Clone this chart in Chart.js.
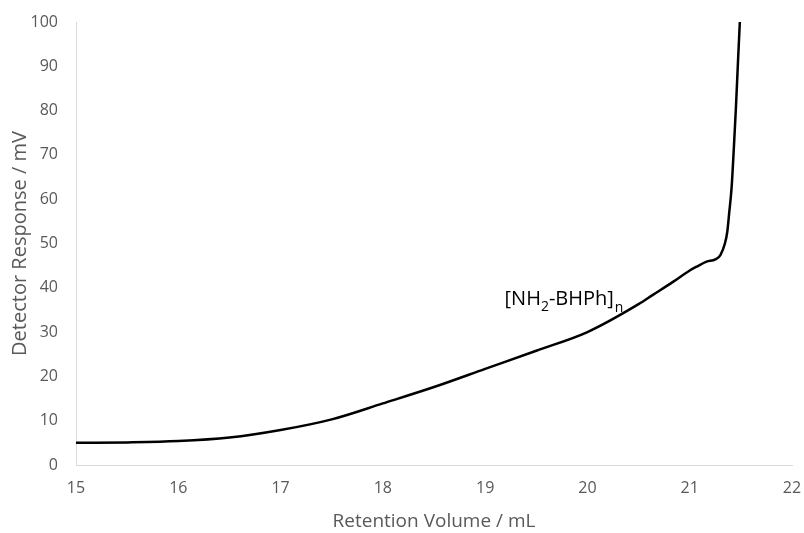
<!DOCTYPE html>
<html>
<head>
<meta charset="utf-8">
<script src="https://cdn.jsdelivr.net/npm/chart.js@4"></script>
<style>
  html, body { margin: 0; padding: 0; background: #fff; }
  #wrap { width: 804px; height: 533px; }
</style>
</head>
<body>
<div id="wrap"><canvas id="gpcChart" width="804" height="533"></canvas></div>
<script>
"use strict";

// retention volume (mL) and detector response (mV)
var volumes   = [15.0, 15.5, 16.0, 16.5, 17.0, 17.5, 18.0, 18.5, 19.0, 19.5, 20.0, 20.5, 20.64, 20.84, 21.0, 21.07, 21.165, 21.25, 21.30, 21.344, 21.367, 21.386, 21.41, 21.432, 21.452, 21.474, 21.49];
var responses = [5.0, 5.1, 5.4, 6.2, 7.9, 10.3, 13.9, 17.6, 21.7, 25.8, 30.0, 36.3, 38.4, 41.4, 43.9, 44.8, 45.9, 46.4, 47.4, 50.0, 52.6, 56.9, 62.8, 71.8, 80.8, 92.1, 100.0];

var xTicks = [15, 16, 17, 18, 19, 20, 21, 22];
var yTicks = [0, 10, 20, 30, 40, 50, 60, 70, 80, 90, 100];

var peakLabel = { base: '[NH', sub1: '2', mid: '-BHPh]', sub2: 'n', x: 19.19, y: 36.1 };

var FONT = "'Open Sans', sans-serif";
var TEXT_COLOR = '#595959';

var points = volumes.map(function (v, i) {
  return { x: v, y: responses[i] };
});

// draws the polymer label with its subscripts
var labelPlugin = {
  id: 'peakLabel',
  afterDatasetsDraw: function (chart) {
    var ctx = chart.ctx;
    var px = chart.scales.x.getPixelForValue(peakLabel.x);
    var py = chart.scales.y.getPixelForValue(peakLabel.y);
    ctx.save();
    ctx.fillStyle = '#000';
    ctx.textBaseline = 'alphabetic';
    ctx.textAlign = 'left';
    ctx.font = '20px ' + FONT;
    ctx.fillText(peakLabel.base, px, py);
    px += ctx.measureText(peakLabel.base).width;
    ctx.font = '14px ' + FONT;
    ctx.fillText(peakLabel.sub1, px, py + 6);
    px += ctx.measureText(peakLabel.sub1).width;
    ctx.font = '20px ' + FONT;
    ctx.fillText(peakLabel.mid, px, py);
    px += ctx.measureText(peakLabel.mid).width;
    ctx.font = '14px ' + FONT;
    ctx.fillText(peakLabel.sub2, px + 1, py + 7);
    ctx.restore();
  }
};

var config = {
  type: 'scatter',
  data: {
    datasets: [{
      data: points,
      showLine: true,
      borderColor: '#000',
      borderWidth: 2.5,
      pointRadius: 0,
      cubicInterpolationMode: 'monotone',
      fill: false
    }]
  },
  options: {
    responsive: false,
    animation: false,
    layout: { padding: 0 },
    plugins: {
      legend: { display: false },
      tooltip: { enabled: false }
    },
    scales: {
      x: {
        type: 'linear',
        min: 15,
        max: 22,
        afterBuildTicks: function (axis) {
          axis.ticks = xTicks.map(function (v) { return { value: v }; });
        },
        afterFit: function (axis) {
          axis.height = 68;
          axis.paddingLeft = 0;
          axis.paddingRight = 12;
        },
        grid: { display: false, tickLength: 8 },
        border: { display: true, color: '#d9d9d9', width: 1 },
        ticks: { color: TEXT_COLOR, font: { family: FONT, size: 16 }, padding: 6, maxRotation: 0 },
        title: { display: true, text: 'Retention Volume / mL', color: TEXT_COLOR, font: { family: FONT, size: 19 }, padding: { top: 0, bottom: 0 } }
      },
      y: {
        min: 0,
        max: 100,
        afterBuildTicks: function (axis) {
          axis.ticks = yTicks.map(function (v) { return { value: v }; });
        },
        afterFit: function (axis) {
          axis.width = 76;
          axis.paddingTop = 22;
          axis.paddingBottom = 0;
        },
        grid: { display: false, tickLength: 8 },
        border: { display: true, color: '#d9d9d9', width: 1 },
        ticks: { color: TEXT_COLOR, font: { family: FONT, size: 16 }, padding: 10 },
        title: { display: true, text: 'Detector Response / mV', color: TEXT_COLOR, font: { family: FONT, size: 20 }, padding: { top: 8, bottom: 0 } }
      }
    }
  },
  plugins: [labelPlugin]
};

new Chart(document.getElementById('gpcChart').getContext('2d'), config);
</script>
</body>
</html>
